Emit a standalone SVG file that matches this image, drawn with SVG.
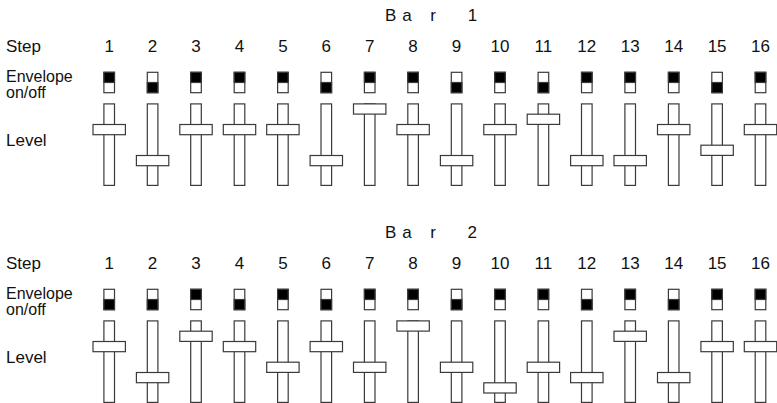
<svg xmlns="http://www.w3.org/2000/svg" width="777" height="403" viewBox="0 0 777 403">
<style>
text{font-family:"Liberation Sans",Arial,sans-serif;font-size:17px;fill:#111}
.env{font-size:16px}
.num{text-anchor:middle}
.trk,.hdl,.sw{fill:#fff;stroke:#3a3a3a;stroke-width:1.2}
.blk{fill:#000;stroke:#3a3a3a;stroke-width:1.2}
</style>
<rect width="777" height="403" fill="#fff"/>
<g id="bar1-labels">
<text y="20.7"><tspan x="385">B</tspan><tspan x="397.5"> a</tspan><tspan x="425.5"> r</tspan><tspan x="463"> 1</tspan></text>
<text x="6" y="51.7">Step</text>
<text class="env" x="6" y="82.2">Envelope</text>
<text class="env" x="6" y="98">on/off</text>
<text x="6" y="145.5">Level</text>
</g>
<g id="bar2-labels">
<text y="237.5"><tspan x="385">B</tspan><tspan x="397.5"> a</tspan><tspan x="425.5"> r</tspan><tspan x="462.7"> 2</tspan></text>
<text x="6" y="268.5">Step</text>
<text class="env" x="6" y="299.2">Envelope</text>
<text class="env" x="6" y="315">on/off</text>
<text x="6" y="362.5">Level</text>
</g>
<g id="connectors"></g>
<!-- Bar 1 -->
<g id="b1s1"><text class="num" x="109.2" y="51.7">1</text><rect class="sw" x="103.9" y="72.3" width="10.6" height="20.4"/><rect class="blk" x="103.9" y="72.3" width="10.6" height="10.2"/><rect class="trk" x="103.9" y="103.9" width="10.6" height="81.5"/><rect class="hdl" x="93" y="124.5" width="32.4" height="10.2"/></g>
<g id="b1s2"><text class="num" x="152.6" y="51.7">2</text><rect class="sw" x="147.3" y="72.3" width="10.6" height="20.4"/><rect class="blk" x="147.3" y="82.5" width="10.6" height="10.2"/><rect class="trk" x="147.3" y="103.9" width="10.6" height="81.5"/><rect class="hdl" x="136.4" y="155.5" width="32.4" height="10.2"/></g>
<g id="b1s3"><text class="num" x="196" y="51.7">3</text><rect class="sw" x="190.7" y="72.3" width="10.6" height="20.4"/><rect class="blk" x="190.7" y="72.3" width="10.6" height="10.2"/><rect class="trk" x="190.7" y="103.9" width="10.6" height="81.5"/><rect class="hdl" x="179.8" y="124.5" width="32.4" height="10.2"/></g>
<g id="b1s4"><text class="num" x="239.5" y="51.7">4</text><rect class="sw" x="234.2" y="72.3" width="10.6" height="20.4"/><rect class="blk" x="234.2" y="72.3" width="10.6" height="10.2"/><rect class="trk" x="234.2" y="103.9" width="10.6" height="81.5"/><rect class="hdl" x="223.3" y="124.5" width="32.4" height="10.2"/></g>
<g id="b1s5"><text class="num" x="282.9" y="51.7">5</text><rect class="sw" x="277.6" y="72.3" width="10.6" height="20.4"/><rect class="blk" x="277.6" y="72.3" width="10.6" height="10.2"/><rect class="trk" x="277.6" y="103.9" width="10.6" height="81.5"/><rect class="hdl" x="266.7" y="124.5" width="32.4" height="10.2"/></g>
<g id="b1s6"><text class="num" x="326.3" y="51.7">6</text><rect class="sw" x="321" y="72.3" width="10.6" height="20.4"/><rect class="blk" x="321" y="82.5" width="10.6" height="10.2"/><rect class="trk" x="321" y="103.9" width="10.6" height="81.5"/><rect class="hdl" x="310.1" y="155.5" width="32.4" height="10.2"/></g>
<g id="b1s7"><text class="num" x="369.7" y="51.7">7</text><rect class="sw" x="364.4" y="72.3" width="10.6" height="20.4"/><rect class="blk" x="364.4" y="72.3" width="10.6" height="10.2"/><rect class="trk" x="364.4" y="103.9" width="10.6" height="81.5"/><rect class="hdl" x="353.5" y="103.9" width="32.4" height="10.2"/></g>
<g id="b1s8"><text class="num" x="413.1" y="51.7">8</text><rect class="sw" x="407.8" y="72.3" width="10.6" height="20.4"/><rect class="blk" x="407.8" y="72.3" width="10.6" height="10.2"/><rect class="trk" x="407.8" y="103.9" width="10.6" height="81.5"/><rect class="hdl" x="396.9" y="124.5" width="32.4" height="10.2"/></g>
<g id="b1s9"><text class="num" x="456.6" y="51.7">9</text><rect class="sw" x="451.3" y="72.3" width="10.6" height="20.4"/><rect class="blk" x="451.3" y="82.5" width="10.6" height="10.2"/><rect class="trk" x="451.3" y="103.9" width="10.6" height="81.5"/><rect class="hdl" x="440.4" y="155.5" width="32.4" height="10.2"/></g>
<g id="b1s10"><text class="num" x="500" y="51.7">10</text><rect class="sw" x="494.7" y="72.3" width="10.6" height="20.4"/><rect class="blk" x="494.7" y="72.3" width="10.6" height="10.2"/><rect class="trk" x="494.7" y="103.9" width="10.6" height="81.5"/><rect class="hdl" x="483.8" y="124.5" width="32.4" height="10.2"/></g>
<g id="b1s11"><text class="num" x="543.4" y="51.7">11</text><rect class="sw" x="538.1" y="72.3" width="10.6" height="20.4"/><rect class="blk" x="538.1" y="82.5" width="10.6" height="10.2"/><rect class="trk" x="538.1" y="103.9" width="10.6" height="81.5"/><rect class="hdl" x="527.2" y="114.2" width="32.4" height="10.2"/></g>
<g id="b1s12"><text class="num" x="586.8" y="51.7">12</text><rect class="sw" x="581.5" y="72.3" width="10.6" height="20.4"/><rect class="blk" x="581.5" y="72.3" width="10.6" height="10.2"/><rect class="trk" x="581.5" y="103.9" width="10.6" height="81.5"/><rect class="hdl" x="570.6" y="155.5" width="32.4" height="10.2"/></g>
<g id="b1s13"><text class="num" x="630.2" y="51.7">13</text><rect class="sw" x="624.9" y="72.3" width="10.6" height="20.4"/><rect class="blk" x="624.9" y="72.3" width="10.6" height="10.2"/><rect class="trk" x="624.9" y="103.9" width="10.6" height="81.5"/><rect class="hdl" x="614" y="155.5" width="32.4" height="10.2"/></g>
<g id="b1s14"><text class="num" x="673.7" y="51.7">14</text><rect class="sw" x="668.4" y="72.3" width="10.6" height="20.4"/><rect class="blk" x="668.4" y="72.3" width="10.6" height="10.2"/><rect class="trk" x="668.4" y="103.9" width="10.6" height="81.5"/><rect class="hdl" x="657.5" y="124.5" width="32.4" height="10.2"/></g>
<g id="b1s15"><text class="num" x="717.1" y="51.7">15</text><rect class="sw" x="711.8" y="72.3" width="10.6" height="20.4"/><rect class="blk" x="711.8" y="82.5" width="10.6" height="10.2"/><rect class="trk" x="711.8" y="103.9" width="10.6" height="81.5"/><rect class="hdl" x="700.9" y="145.2" width="32.4" height="10.2"/></g>
<g id="b1s16"><text class="num" x="760.5" y="51.7">16</text><rect class="sw" x="755.2" y="72.3" width="10.6" height="20.4"/><rect class="blk" x="755.2" y="72.3" width="10.6" height="10.2"/><rect class="trk" x="755.2" y="103.9" width="10.6" height="81.5"/><rect class="hdl" x="744.3" y="124.5" width="32.4" height="10.2"/></g>
<!-- Bar 2 -->
<g id="b2s1"><text class="num" x="109.2" y="268.5">1</text><rect class="sw" x="103.9" y="289.3" width="10.6" height="20.4"/><rect class="blk" x="103.9" y="299.5" width="10.6" height="10.2"/><rect class="trk" x="103.9" y="320.9" width="10.6" height="81.5"/><rect class="hdl" x="93" y="341.5" width="32.4" height="10.2"/></g>
<g id="b2s2"><text class="num" x="152.6" y="268.5">2</text><rect class="sw" x="147.3" y="289.3" width="10.6" height="20.4"/><rect class="blk" x="147.3" y="299.5" width="10.6" height="10.2"/><rect class="trk" x="147.3" y="320.9" width="10.6" height="81.5"/><rect class="hdl" x="136.4" y="372.5" width="32.4" height="10.2"/></g>
<g id="b2s3"><text class="num" x="196" y="268.5">3</text><rect class="sw" x="190.7" y="289.3" width="10.6" height="20.4"/><rect class="blk" x="190.7" y="289.3" width="10.6" height="10.2"/><rect class="trk" x="190.7" y="320.9" width="10.6" height="81.5"/><rect class="hdl" x="179.8" y="331.2" width="32.4" height="10.2"/></g>
<g id="b2s4"><text class="num" x="239.5" y="268.5">4</text><rect class="sw" x="234.2" y="289.3" width="10.6" height="20.4"/><rect class="blk" x="234.2" y="299.5" width="10.6" height="10.2"/><rect class="trk" x="234.2" y="320.9" width="10.6" height="81.5"/><rect class="hdl" x="223.3" y="341.5" width="32.4" height="10.2"/></g>
<g id="b2s5"><text class="num" x="282.9" y="268.5">5</text><rect class="sw" x="277.6" y="289.3" width="10.6" height="20.4"/><rect class="blk" x="277.6" y="289.3" width="10.6" height="10.2"/><rect class="trk" x="277.6" y="320.9" width="10.6" height="81.5"/><rect class="hdl" x="266.7" y="362.2" width="32.4" height="10.2"/></g>
<g id="b2s6"><text class="num" x="326.3" y="268.5">6</text><rect class="sw" x="321" y="289.3" width="10.6" height="20.4"/><rect class="blk" x="321" y="299.5" width="10.6" height="10.2"/><rect class="trk" x="321" y="320.9" width="10.6" height="81.5"/><rect class="hdl" x="310.1" y="341.5" width="32.4" height="10.2"/></g>
<g id="b2s7"><text class="num" x="369.7" y="268.5">7</text><rect class="sw" x="364.4" y="289.3" width="10.6" height="20.4"/><rect class="blk" x="364.4" y="289.3" width="10.6" height="10.2"/><rect class="trk" x="364.4" y="320.9" width="10.6" height="81.5"/><rect class="hdl" x="353.5" y="362.2" width="32.4" height="10.2"/></g>
<g id="b2s8"><text class="num" x="413.1" y="268.5">8</text><rect class="sw" x="407.8" y="289.3" width="10.6" height="20.4"/><rect class="blk" x="407.8" y="289.3" width="10.6" height="10.2"/><rect class="trk" x="407.8" y="320.9" width="10.6" height="81.5"/><rect class="hdl" x="396.9" y="320.9" width="32.4" height="10.2"/></g>
<g id="b2s9"><text class="num" x="456.6" y="268.5">9</text><rect class="sw" x="451.3" y="289.3" width="10.6" height="20.4"/><rect class="blk" x="451.3" y="299.5" width="10.6" height="10.2"/><rect class="trk" x="451.3" y="320.9" width="10.6" height="81.5"/><rect class="hdl" x="440.4" y="362.2" width="32.4" height="10.2"/></g>
<g id="b2s10"><text class="num" x="500" y="268.5">10</text><rect class="sw" x="494.7" y="289.3" width="10.6" height="20.4"/><rect class="blk" x="494.7" y="289.3" width="10.6" height="10.2"/><rect class="trk" x="494.7" y="320.9" width="10.6" height="81.5"/><rect class="hdl" x="483.8" y="382.8" width="32.4" height="10.2"/></g>
<g id="b2s11"><text class="num" x="543.4" y="268.5">11</text><rect class="sw" x="538.1" y="289.3" width="10.6" height="20.4"/><rect class="blk" x="538.1" y="289.3" width="10.6" height="10.2"/><rect class="trk" x="538.1" y="320.9" width="10.6" height="81.5"/><rect class="hdl" x="527.2" y="362.2" width="32.4" height="10.2"/></g>
<g id="b2s12"><text class="num" x="586.8" y="268.5">12</text><rect class="sw" x="581.5" y="289.3" width="10.6" height="20.4"/><rect class="blk" x="581.5" y="299.5" width="10.6" height="10.2"/><rect class="trk" x="581.5" y="320.9" width="10.6" height="81.5"/><rect class="hdl" x="570.6" y="372.5" width="32.4" height="10.2"/></g>
<g id="b2s13"><text class="num" x="630.2" y="268.5">13</text><rect class="sw" x="624.9" y="289.3" width="10.6" height="20.4"/><rect class="blk" x="624.9" y="289.3" width="10.6" height="10.2"/><rect class="trk" x="624.9" y="320.9" width="10.6" height="81.5"/><rect class="hdl" x="614" y="331.2" width="32.4" height="10.2"/></g>
<g id="b2s14"><text class="num" x="673.7" y="268.5">14</text><rect class="sw" x="668.4" y="289.3" width="10.6" height="20.4"/><rect class="blk" x="668.4" y="299.5" width="10.6" height="10.2"/><rect class="trk" x="668.4" y="320.9" width="10.6" height="81.5"/><rect class="hdl" x="657.5" y="372.5" width="32.4" height="10.2"/></g>
<g id="b2s15"><text class="num" x="717.1" y="268.5">15</text><rect class="sw" x="711.8" y="289.3" width="10.6" height="20.4"/><rect class="blk" x="711.8" y="289.3" width="10.6" height="10.2"/><rect class="trk" x="711.8" y="320.9" width="10.6" height="81.5"/><rect class="hdl" x="700.9" y="341.5" width="32.4" height="10.2"/></g>
<g id="b2s16"><text class="num" x="760.5" y="268.5">16</text><rect class="sw" x="755.2" y="289.3" width="10.6" height="20.4"/><rect class="blk" x="755.2" y="289.3" width="10.6" height="10.2"/><rect class="trk" x="755.2" y="320.9" width="10.6" height="81.5"/><rect class="hdl" x="744.3" y="341.5" width="32.4" height="10.2"/></g>
</svg>
